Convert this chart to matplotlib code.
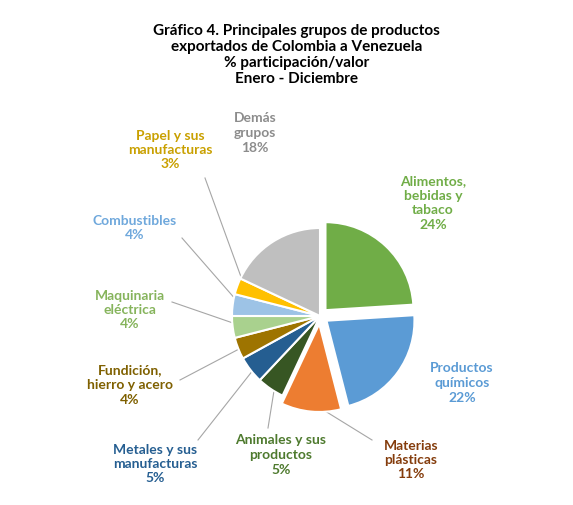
import matplotlib.pyplot as plt
import numpy as np

plt.rcParams['font.family'] = ['Lato', 'DejaVu Sans']

labels = ['Alimentos,\nbebidas y\ntabaco', 'Productos\nquímicos', 'Materias\nplásticas',
          'Animales y sus\nproductos', 'Metales y sus\nmanufacturas', 'Fundición,\nhierro y acero',
          'Maquinaria\neléctrica', 'Combustibles', 'Papel y sus\nmanufacturas', 'Demás\ngrupos']
values = [24, 22, 11, 5, 5, 4, 4, 4, 3, 18]
colors = ['#70ad47', '#5b9bd5', '#ed7d31', '#375623', '#255e91', '#9e7400',
          '#a9d18e', '#9dc3e6', '#ffc000', '#bfbfbf']
text_colors = ['#70ad47', '#5b9bd5', '#843c0c', '#4e7a2e', '#255e91', '#7f6000',
               '#86b45c', '#6fa8dc', '#c9a000', '#8c8c8c']
explode = [8, 8, 8, 0, 0, 0, 0, 0, 0, 0]

# label positions in pixels from top-left
label_pos = [(433, 203), (462, 383), (411, 460), (281, 455), (155, 464),
             (130, 385), (130, 310), (135, 228), (170, 150), (255, 133)]
leaders = {2: (372, 440), 3: (268, 428), 4: (198, 440), 5: (180, 380),
           6: (172, 302), 7: (182, 238), 8: (205, 178)}

W, H = 573, 505
fig = plt.figure(figsize=(W / 100, H / 100), dpi=100)
ax = fig.add_axes([0, 0, 1, 1])

cx, cy, r = 320, H - 316, 88
wedges, _ = ax.pie(values, colors=colors, startangle=90, counterclock=False,
                   explode=explode, center=(cx, cy), radius=r,
                   wedgeprops=dict(edgecolor='white', linewidth=1.5))
ax.set_xlim(0, W)
ax.set_ylim(0, H)
ax.set_aspect('equal')
ax.axis('off')

for i, w in enumerate(wedges):
    x, y = label_pos[i]
    ax.text(x, H - y, f'{labels[i]}\n{values[i]}%', color=text_colors[i],
            fontsize=10, fontweight='bold', ha='center', va='center', linespacing=1.25)
    if i in leaders:
        ang = np.deg2rad((w.theta1 + w.theta2) / 2)
        wx, wy = w.center
        px = wx + 0.9 * r * np.cos(ang)
        py = wy + 0.9 * r * np.sin(ang)
        lx, ly = leaders[i]
        ax.plot([lx, px], [H - ly, py], color='#a6a6a6', lw=0.8, zorder=0)

ax.text(W / 2 + 10, H - 55, 'Gráfico 4. Principales grupos de productos\n'
        'exportados de Colombia a Venezuela\n% participación/valor\nEnero - Diciembre',
        ha='center', va='center', fontsize=11, fontweight='bold', linespacing=1.2)

fig.savefig('out.png', dpi=100)
